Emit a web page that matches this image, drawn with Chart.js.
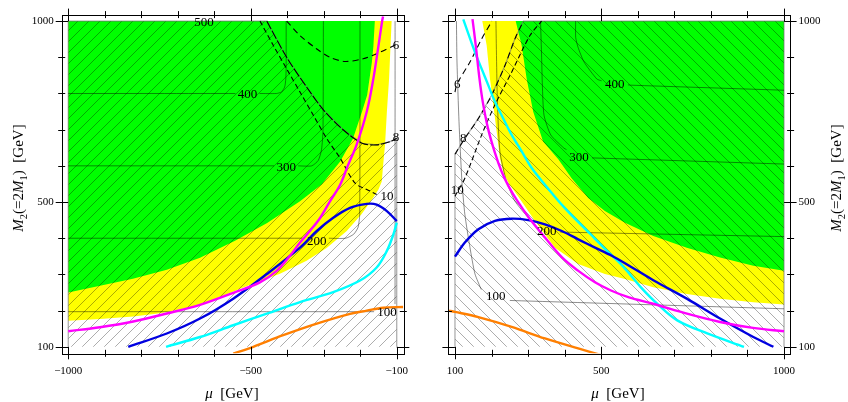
<!DOCTYPE html>
<html><head><meta charset="utf-8">
<script src="https://cdn.jsdelivr.net/npm/chart.js@4.4.0/dist/chart.umd.min.js"></script>
<style>
html,body{margin:0;padding:0;background:#fff;}
#wrap{display:flex;width:848px;height:402px;}
.box{position:relative;width:424px;height:402px;}
canvas{display:block;}
</style></head><body>
<div id="wrap"><div class="box"><canvas id="c1" width="424" height="402"></canvas></div><div class="box"><canvas id="c2" width="424" height="402"></canvas></div></div>
<script>
// ---------- ticks ----------
const X_TICKS_L = [-1000,-900,-800,-700,-600,-500,-400,-300,-200,-100];
const X_LABELS_L = [-1000,-500,-100];
const X_TICKS_R = [100,200,300,400,500,600,700,800,900,1000];
const X_LABELS_R = [100,500,1000];
const Y_TICKS = [100,200,300,400,500,600,700,800,900,1000];
const Y_LABELS = [100,500,1000];

// ---------- left panel (mu < 0) ----------
const L_YELLOW = [[-1000,1000],[-114,1000],[-121,840],[-127,749],[-132,659],[-138,593],[-141,557],[-150,535],[-165,511],[-196,467],[-237,420],[-292,373],[-347,338],[-420,302],[-521,264],[-639,214],[-749,193],[-822,184],[-913,177],[-1000,172]];
const L_GREEN = [[-1000,1000],[-160,1000],[-164,930],[-168,887],[-181,796],[-195,750],[-220,675],[-255,612],[-305,549],[-365,502],[-455,442],[-543,393],[-639,346],[-730,313],[-823,288],[-913,269],[-1000,250]];
const L_HATCH = [[-1000,100],[-1000,1000],[-456,1000],[-401.5,900],[-347,818],[-301,755],[-246,699],[-195,662.5],[-155,658],[-118,667],[-100,676],[-100,100]];
const L_MAGENTA = [[-137.5,1013],[-140,1000],[-150,932],[-164,841],[-182,750],[-210,658],[-233,603],[-255,548],[-283,502],[-310,456],[-338,420],[-365,388],[-392,352],[-429,310],[-475,278],[-546,250],[-639,216],[-730,192],[-822,170],[-913,154],[-1000,143]];
const L_BLUE = [[-835.6,100],[-730,136.7],[-639,178],[-548,233],[-456,301],[-365,374],[-319,420],[-274,456.6],[-228,484],[-182,495],[-155,493],[-127,475],[-100,447.5]];
const L_CYAN = [[-732,100],[-639,127],[-548,159.5],[-456,191.6],[-365,223.5],[-274,251],[-200.6,283],[-155,319],[-127,365],[-109,411],[-100,443]];
const L_ORANGE = [[-548,81],[-493,100],[-411,132],[-319,164],[-228,191],[-182,200],[-137,208],[-82,210]];
const L_C400A = [[-1000,800],[-542,800]];
const L_C400B = [[-476,800],[-430,800],[-416,804],[-407,818],[-404,840],[-403,870],[-403,1000]];
const L_C300A = [[-1000,600],[-436,600]];
const L_C300B = [[-370,600],[-333,600],[-315,615],[-306,645],[-302,700],[-301,1000]];
const L_C200A = [[-1000,400],[-352,400]];
const L_C200B = [[-286,400],[-240,400],[-218,411],[-206,430],[-201.5,465],[-200.6,1000]];
const L_C100A = [[-1000,197],[-162,197]];
const L_C100B = [[-104.7,218],[-104.6,245],[-104.5,1000]];
const L_D6 = [[-401.5,1000],[-365,960],[-319,923],[-283,900],[-242,888.6],[-192,896],[-146,914],[-100,936]];
const L_D8 = [[-456,1000],[-401.5,900],[-347,818],[-301,755],[-246,699],[-195,662.5],[-155,658],[-118,667],[-100,676]];
const L_D10 = [[-474.6,1000],[-438,932.5],[-401.5,868],[-365,804],[-328.6,740],[-292,676],[-255,621],[-214,552],[-182,534.6],[-155,521]];
const L_LABELS = [['500',-628,1000],['400',-509,800],['300',-403,598.5],['200',-319,394.6],['100',-127,196],['6',-102,935],['8',-102,681],['10',-127,519]];

// ---------- right panel (mu > 0) ----------
const R_YELLOW = [[1000,1000],[174.7,1000],[186.7,932.5],[195.7,841],[204.8,768],[214,694.6],[223,621],[233,580],[248,550],[273,515],[319,447.6],[373.5,374],[437,329],[510,301],[565,287.6],[642.5,264.5],[734,246],[825,232.7],[916,223],[1000,217]];
const R_GREEN = [[1000,1000],[266,1000],[282.5,932.5],[296,841],[314,749.5],[341,667],[382.6,618],[419,566],[464.6,511.5],[510,475],[565,443],[642.5,406],[734,374],[825,347],[916,324],[1000,310]];
const R_HATCH = [[100,100],[100,632],[127,676],[164,731],[200,795],[237,878],[264,951],[287,1000],[1000,1000],[1000,100]];
const R_MAGENTA = [[147.9,1005.5],[156.9,932.5],[167,840.8],[176,776.9],[190.3,703.6],[208,640.3],[227.2,585.2],[246.4,544.1],[271,502.5],[302.4,456.6],[346.2,401.8],[392.7,346.9],[436.5,310.4],[483,278.3],[526.7,255.5],[576,236.3],[641.5,219],[734.5,191.6],[825,168.6],[915.3,152.1],[1000,143]];
const R_CYAN = [[122.7,1005],[154.7,914],[173,868],[191,823],[209.4,777],[232,731],[255,685.5],[282.5,640],[310,594],[346,548],[400,484],[471,411],[516,365],[562,319.5],[608,265],[653,219],[708,173],[790,137],[890.5,100]];
const R_BLUE = [[100,349],[127,388],[164,425],[209.4,448],[255,454],[300.5,450],[346,438.5],[392,420],[437,397],[483,374],[528.7,351.5],[565,331],[642.5,284],[734,233],[825,178],[916,127],[971,100]];
const R_ORANGE = [[82,200],[100,196.5],[164,182],[255,155],[346,123],[437,95.5],[501,77]];
const R_C400A = [[430,1000],[430.2,955],[436.5,928],[453,887],[488,840],[501,835]];
const R_C400B = [[573,824],[580,823],[1000,809]];
const R_C300A = [[334,1000],[337,900],[339,823],[343.5,740],[362,685.5],[398,649],[405,645]];
const R_C300B = [[475,622],[1000,605]];
const R_C200A = [[212,1000],[216,777],[223,639],[241,557],[264,502.5],[300.5,456.6],[314,444]];
const R_C200B = [[388,417],[1000,404.5]];
const R_C100A = [[104,1000],[105.5,887],[111,722],[119,557],[127,466],[141,374.3],[154.7,301.3],[172,258]];
const R_C100B = [[250,228],[1000,205]];
const R_D6 = [[100,804],[105.5,826.5],[141,887],[173,951],[201,1000]];
const R_D8 = [[100,632],[127,676],[164,731],[200,795],[237,878],[264,951],[287,1000]];
const R_D10 = [[100,516],[127,566],[173,685.5],[209,768],[255,859],[305,960],[337,1000]];
const R_LABELS = [['400',536.9,827],['300',439.2,626],['200',350.8,420],['100',211.3,242],['6',106.3,827],['8',122.7,678],['10',106.3,535]];

// ---------- text ----------
const Y_TITLE = [{t:'M',it:1},{t:'2',sub:1},{t:'(=2'},{t:'M',it:1},{t:'1',sub:1},{t:')  [GeV]'}];
const X_TITLE = [{t:'μ',it:1},{t:'  [GeV]'}];

const SERIF = '"Liberation Serif","Times New Roman",serif';
const P = a => a.map(([x,y]) => ({x,y}));

function hatch(dir){
  const s = 11, c = document.createElement('canvas'); c.width = s; c.height = s;
  const g = c.getContext('2d'); g.strokeStyle = 'rgba(0,0,0,0.36)'; g.lineWidth = 0.9;
  g.beginPath();
  if (dir > 0) { g.moveTo(-1,s+1); g.lineTo(s+1,-1); g.moveTo(-s/2-1,s/2+1); g.lineTo(s/2+1,-s/2-1); g.moveTo(s/2-1,1.5*s+1); g.lineTo(1.5*s+1,s/2-1); }
  else { g.moveTo(-1,-1); g.lineTo(s+1,s+1); g.moveTo(-s/2-1,s/2-1); g.lineTo(s/2+1,1.5*s+1); g.moveTo(s/2-1,-s/2-1); g.lineTo(1.5*s+1,s/2+1); }
  g.stroke();
  return g.createPattern(c,'repeat');
}
function poly(d, bg, order, border, bw){ return {data:P(d), showLine:true, fill:'shape', backgroundColor:bg, borderColor:border||'rgba(0,0,0,0)', borderWidth:bw||1, pointRadius:0, tension:0, order}; }
function line(d, color, w, order, dash, tension){ return {data:P(d), showLine:true, fill:false, borderColor:color, borderWidth:w, borderDash:dash||[], pointRadius:0, tension:(tension===undefined?0.35:tension), order}; }

function drawRich(ctx, segs, cx, cy, rot, size){
  ctx.save(); ctx.translate(cx,cy); ctx.rotate(rot);
  let w = 0;
  const parts = segs.map(s => { const fs = s.sub ? size*0.7 : size; const f = (s.it?'italic ':'') + fs + 'px ' + SERIF; ctx.font = f; const m = ctx.measureText(s.t).width; w += m; return {s,f,m}; });
  let x = -w/2; ctx.fillStyle = '#000'; ctx.textBaseline = 'alphabetic'; ctx.textAlign = 'left';
  for (const p of parts){ ctx.font = p.f; ctx.fillText(p.s.t, x, size*0.35 + (p.s.sub ? size*0.22 : 0)); x += p.m; }
  ctx.restore();
}

const framePlugin = {
  id:'frameDecor',
  afterDatasetsDraw(chart, args, o){
    const {ctx, chartArea:a, scales:{x, y}} = chart;
    ctx.save();
    ctx.strokeStyle = '#000'; ctx.lineWidth = 1;
    ctx.strokeRect(Math.round(a.left)+0.5, Math.round(a.top)+0.5, Math.round(a.right-a.left), Math.round(a.bottom-a.top));
    ctx.beginPath();
    for (const v of o.xt){ const p = Math.round(x.getPixelForValue(v))+0.5; const maj = o.xm.includes(v); const i = maj?6.5:3.5, e = maj?6:3.5;
      ctx.moveTo(p, a.bottom - i); ctx.lineTo(p, a.bottom + e); ctx.moveTo(p, a.top - e); ctx.lineTo(p, a.top + i); }
    for (const v of o.yt){ const p = Math.round(y.getPixelForValue(v))+0.5; const maj = o.ym.includes(v); const i = maj?6.5:3.5, e = maj?6:3.5;
      ctx.moveTo(a.left - e, p); ctx.lineTo(a.left + i, p); ctx.moveTo(a.right - i, p); ctx.lineTo(a.right + e, p); }
    ctx.stroke();
    // contour labels
    ctx.fillStyle = '#000'; ctx.font = '13px ' + SERIF; ctx.textAlign = 'center'; ctx.textBaseline = 'middle';
    for (const [t, vx, vy] of o.labels) ctx.fillText(t, x.getPixelForValue(vx), y.getPixelForValue(vy)+1);
    // axis titles
    drawRich(ctx, X_TITLE, o.xTitle[0], o.xTitle[1], 0, 15);
    drawRich(ctx, Y_TITLE, o.yTitle[0], o.yTitle[1], -Math.PI/2, 15);
    ctx.restore();
  }
};

function makeChart(id, side){
  const L = side === 'L';
  const xt = L ? X_TICKS_L : X_TICKS_R, xl = L ? X_LABELS_L : X_LABELS_R;
  const D = L ? {Y:L_YELLOW,G:L_GREEN,H:L_HATCH,M:L_MAGENTA,B:L_BLUE,C:L_CYAN,O:L_ORANGE,cs:[L_C400A,L_C400B,L_C300A,L_C300B,L_C200A,L_C200B,L_C100A,L_C100B],d6:L_D6,d8:L_D8,d10:L_D10,lab:L_LABELS}
              : {Y:R_YELLOW,G:R_GREEN,H:R_HATCH,M:R_MAGENTA,B:R_BLUE,C:R_CYAN,O:R_ORANGE,cs:[R_C400A,R_C400B,R_C300A,R_C300B,R_C200A,R_C200B,R_C100A,R_C100B],d6:R_D6,d8:R_D8,d10:R_D10,lab:R_LABELS};
  const cg = 'rgba(0,0,0,0.45)';
  const datasets = [
    poly(D.Y, '#ffff00', 100),
    poly(D.G, '#00ff00', 90),
    poly(D.H, hatch(L?1:-1), 80, 'rgba(110,110,110,0.6)', 1.2),
    ...D.cs.map(c => line(c, cg, 1, 60, [], 0.2)),
    line(D.d6, '#000', 1.1, 50, [6,4], 0.3), line(D.d8, '#000', 1.1, 50, L?[9,2]:[6,4], 0.3), line(D.d10, '#000', 1.1, 50, [5,3], 0.3),
    line(D.O, '#ff7f00', 2.4, 40), line(D.C, '#00ffff', 2.4, 30), line(D.B, '#0000e0', 2.4, 20), line(D.M, '#ff00ff', 2.4, 10)
  ];
  const tickFont = {family: SERIF, size: 11};
  return new Chart(document.getElementById(id), {
    type:'scatter',
    data:{datasets},
    options:{
      responsive:false, animation:false, devicePixelRatio:1,
      layout:{padding: L ? {top:12.1, right:20.7, left:0, bottom:0} : {top:12.1, left:24.4, right:0, bottom:0}},
      plugins:{legend:{display:false}, tooltip:{enabled:false},
        frameDecor:{xt, xm:xl, yt:Y_TICKS, ym:Y_LABELS, labels:D.lab, xTitle: L?[232,393]:[194,393], yTitle: L?[18,178]:[412,178]}},
      scales:{
        x:{type:'linear', min:L?-1018:82, max:L?-82:1018,
          afterBuildTicks: s => { s.ticks = xt.map(v => ({value:v})); },
          afterFit: s => { s.height = 48.7; },
          grid:{display:false, drawTicks:false}, border:{display:false},
          ticks:{autoSkip:false, maxRotation:0, padding:11, color:'#000', font:tickFont,
            callback: v => xl.includes(v) ? (v < 0 ? '\u2212' + Math.abs(v) : String(v)) : ''}},
        y:{type:'linear', position: L?'left':'right', min:82, max:1018,
          afterBuildTicks: s => { s.ticks = Y_TICKS.map(v => ({value:v})); },
          afterFit: s => { s.width = L ? 61.7 : 57.4; },
          grid:{display:false, drawTicks:false}, border:{display:false},
          ticks:{autoSkip:false, padding:8, color:'#000', font:tickFont,
            callback: v => Y_LABELS.includes(v) ? String(v) : ''}}
      }
    },
    plugins:[framePlugin]
  });
}
makeChart('c1','L');
makeChart('c2','R');
</script>
</body></html>
